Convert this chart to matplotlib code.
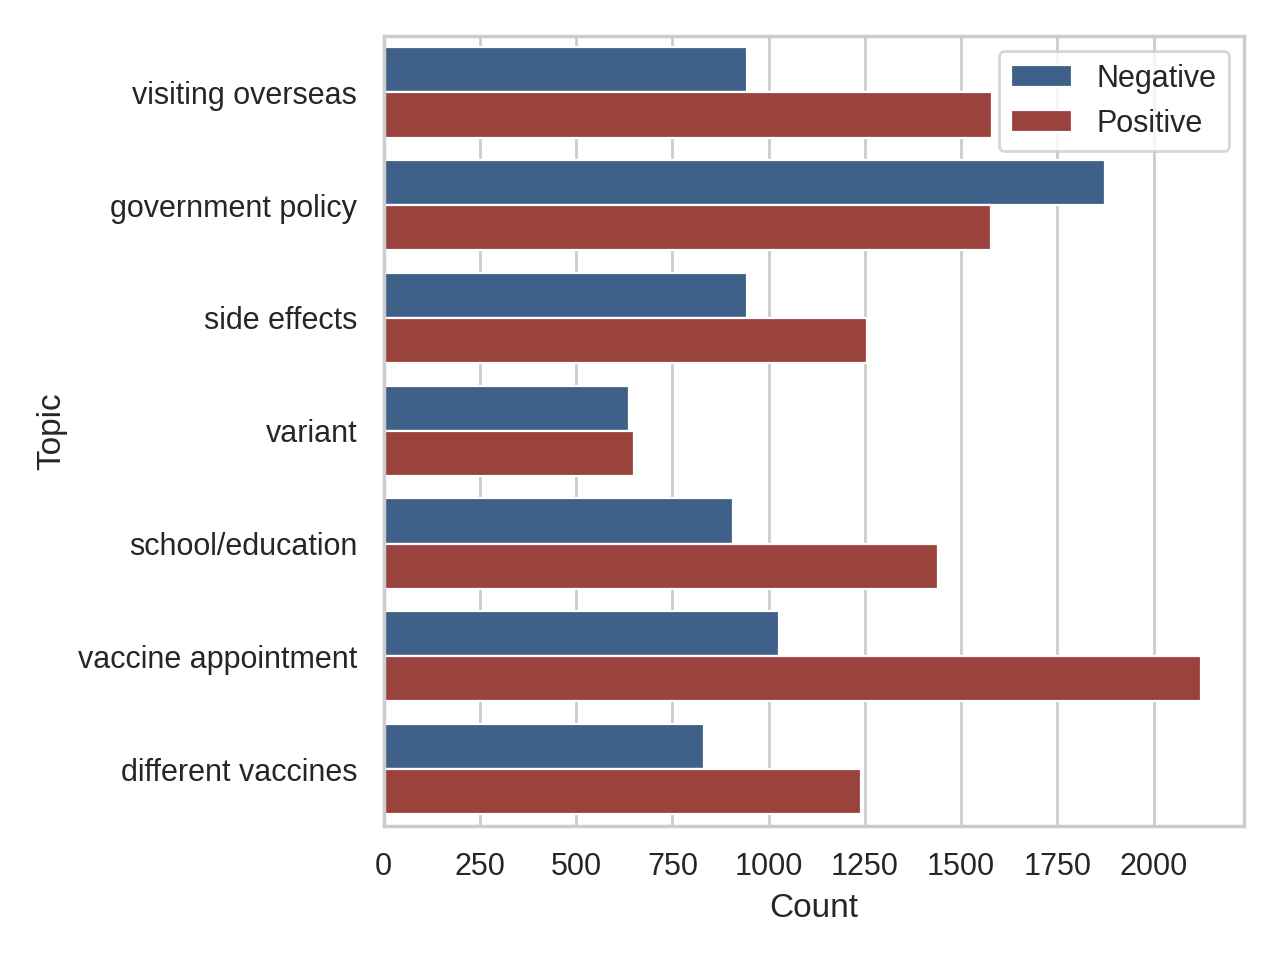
import numpy as np
import matplotlib
matplotlib.use("Agg")
import matplotlib.pyplot as plt
import seaborn as sns

topics = ["visiting overseas", "government policy", "side effects", "variant",
          "school/education", "vaccine appointment", "different vaccines"]
negative = [944, 1873, 944, 636, 908, 1027, 833]
positive = [1580, 1577, 1255, 649, 1440, 2122, 1240]

sns.set_theme(style="whitegrid")
plt.rcParams['font.family'] = ['Arial', 'Liberation Sans', 'DejaVu Sans']

fig, ax = plt.subplots(figsize=(6.4, 4.8), dpi=200)
y = np.arange(len(topics))
h = 0.4
ax.barh(y - h / 2, negative, height=h, color="#3f6089", edgecolor="white", lw=0.8, label="Negative")
ax.barh(y + h / 2, positive, height=h, color="#9a423c", edgecolor="white", lw=0.8, label="Positive")
ax.set_yticks(y)
ax.set_yticklabels(topics)
ax.set_ylim(len(topics) - 0.5, -0.5)
ax.set_xlim(0, 2235)
ax.set_xlabel("Count")
ax.set_ylabel("Topic")
ax.grid(axis="y", visible=False)
ax.legend(loc="upper right")
fig.tight_layout()
fig.savefig("out.png")
